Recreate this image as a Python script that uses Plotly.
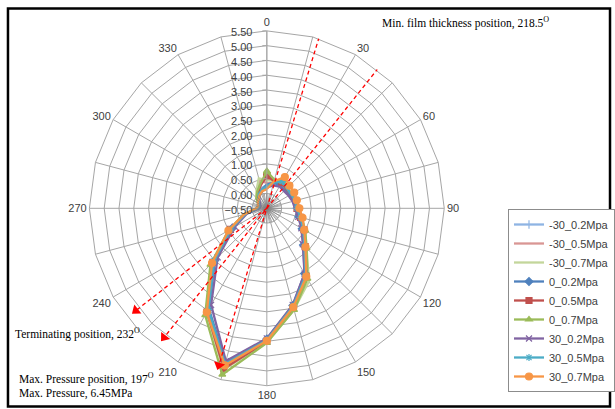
import plotly.graph_objects as go

# ---- data ----
ANGLES = list(range(0, 360, 15))
ANGLE_LABELS = [str(a) if a % 30 == 0 else "" for a in ANGLES]

SERIES_NAMES = ["-30_0.2Mpa", "-30_0.5Mpa", "-30_0.7Mpa",
                "0_0.2Mpa", "0_0.5Mpa", "0_0.7Mpa",
                "30_0.2Mpa", "30_0.5Mpa", "30_0.7Mpa"]

m30_02 = [0.30, 0.35, 0.45, 0.40, 0.42, 0.45, 0.50, 0.65, 0.90, 1.28, 2.10, 2.95, 3.95, 4.95, 3.45, 2.00, 0.85, 0.25, -0.20, -0.25, -0.20, -0.10, 0.05, 0.20]
m30_05 = [0.35, 0.40, 0.50, 0.42, 0.44, 0.48, 0.52, 0.68, 0.95, 1.32, 2.18, 3.00, 4.00, 5.05, 3.50, 2.05, 0.90, 0.28, -0.18, -0.22, -0.18, -0.05, 0.15, 0.50]
m30_07 = [0.45, 0.45, 0.55, 0.45, 0.47, 0.52, 0.56, 0.72, 1.00, 1.40, 2.35, 3.05, 4.02, 5.15, 3.58, 2.10, 0.95, 0.30, -0.15, -0.20, -0.15, 0.00, 0.20, 0.55]
z_02 = [0.30, 0.40, 0.40, 0.35, 0.38, 0.42, 0.48, 0.62, 0.88, 1.25, 2.05, 2.90, 3.92, 4.90, 3.42, 1.98, 0.85, 0.22, -0.22, -0.25, -0.22, -0.12, 0.05, 0.15]
z_05 = [0.60, 0.45, 0.50, 0.42, 0.45, 0.48, 0.52, 0.68, 0.95, 1.33, 2.15, 2.98, 4.00, 5.12, 3.55, 2.08, 0.92, 0.28, -0.18, -0.22, -0.18, -0.05, 0.10, 0.30]
z_07 = [0.75, 0.50, 0.55, 0.46, 0.48, 0.52, 0.56, 0.72, 1.00, 1.40, 2.25, 3.06, 4.05, 5.32, 3.67, 2.20, 1.00, 0.32, -0.15, -0.20, -0.15, 0.00, 0.15, 0.35]
p30_02 = [0.20, 0.30, 0.35, 0.32, 0.35, 0.40, 0.45, 0.60, 0.85, 1.22, 2.05, 2.88, 3.90, 4.85, 3.27, 1.85, 0.75, 0.20, -0.25, -0.28, -0.25, -0.15, 0.00, 0.10]
p30_05 = [0.25, 0.40, 0.55, 0.45, 0.45, 0.48, 0.52, 0.68, 0.92, 1.30, 2.12, 2.93, 3.95, 4.95, 3.45, 2.02, 0.90, 0.25, -0.20, -0.24, -0.20, -0.10, 0.05, 0.15]
p30_07 = [0.15, 0.45, 0.72, 0.58, 0.57, 0.55, 0.60, 0.75, 0.96, 1.35, 2.17, 2.96, 3.98, 5.00, 3.56, 2.12, 1.00, 0.30, -0.15, -0.20, -0.15, -0.10, 0.00, 0.10]
SERIES_VALUES = [m30_02, m30_05, m30_07, z_02, z_05, z_07, p30_02, p30_05, p30_07]

R_MIN, R_MAX, R_STEP = -0.5, 5.5, 0.5

# annotation lines (degrees) and their extents (in radial units)
MARK_ANGLES = [197, 218.5, 232]
MARK_TIP_R = [5.05, 5.08, 5.12]
MARK_BACK_R = [5.55, 5.55, None]
CENTER_SPOKES = list(range(0, 360, 10))

# ---- styles ----
COLORS = ["#8EB4E3", "#D99694", "#C3D69B", "#4F81BD", "#C0504D",
          "#9BBB59", "#8064A2", "#4BACC6", "#F79646"]
SYMBOLS = ["cross-thin-open", None, None, "diamond", "square",
           "triangle-up", "x-thin-open", "asterisk-open", "circle"]
SIZES = [6, 0, 0, 6, 6, 6, 6, 6, 7]

fig = go.Figure()
cats = [str(a) for a in ANGLES]
for name, vals, col, sym, sz in zip(SERIES_NAMES, SERIES_VALUES, COLORS, SYMBOLS, SIZES):
    kw = dict(r=vals + vals[:1], theta=cats + cats[:1], name=name,
              line=dict(color=col, width=2.3), subplot="polar")
    if sym:
        kw["mode"] = "lines+markers"
        kw["marker"] = dict(symbol=sym, size=sz, color=col,
                            line=dict(color=col, width=1.2))
    else:
        kw["mode"] = "lines"
    fig.add_trace(go.Scatterpolar(**kw))

# fine spokes near centre
sp_r, sp_t = [], []
for a in CENTER_SPOKES:
    sp_r += [R_MIN, 0.0, None]
    sp_t += [a, a, None]
fig.add_trace(go.Scatterpolar(r=sp_r, theta=sp_t, mode="lines", subplot="polar2",
                              line=dict(color="#7f7f7f", width=0.7),
                              showlegend=False, hoverinfo="skip"))

# red dashed marker lines
for ang, tip, back in zip(MARK_ANGLES, MARK_TIP_R, MARK_BACK_R):
    rr = [R_MIN, tip]
    tt = [ang, ang]
    if back is not None:
        rr = [back, R_MIN, tip]
        tt = [ang - 180, ang - 180, ang]
    fig.add_trace(go.Scatterpolar(r=rr, theta=tt, mode="lines", subplot="polar2",
                                  line=dict(color="#FF0000", width=1.3, dash="4px,3px"),
                                  showlegend=False, hoverinfo="skip"))
fig.add_trace(go.Scatterpolar(r=MARK_TIP_R, theta=MARK_ANGLES, mode="markers",
                              subplot="polar2",
                              marker=dict(symbol="triangle-up", size=10, color="#FF0000",
                                          angle=MARK_ANGLES),
                              showlegend=False, hoverinfo="skip"))

W, H = 615, 409
cx, cy, rad = 267.7, 208.3, 178
dom_x = [(cx - rad) / W, (cx + rad) / W]
dom_y = [1 - (cy + rad) / H, 1 - (cy - rad) / H]

tickv = [R_MIN + i * R_STEP for i in range(int(round((R_MAX - R_MIN) / R_STEP)) + 1)]
fig.update_layout(
    width=W, height=H, margin=dict(l=0, r=0, t=0, b=0),
    paper_bgcolor="white", plot_bgcolor="white",
    font=dict(family="Liberation Sans, Arial", size=11, color="#404040"),
    polar=dict(
        domain=dict(x=dom_x, y=dom_y), bgcolor="white", gridshape="linear",
        angularaxis=dict(type="category", categoryarray=cats, rotation=90,
                         direction="clockwise", tickmode="array", tickvals=cats,
                         ticktext=ANGLE_LABELS, showline=True, linecolor="#A6A6A6",
                         linewidth=1, gridcolor="#A6A6A6", gridwidth=1, ticks="",
                         tickfont=dict(size=11, color="#404040")),
        radialaxis=dict(range=[R_MIN, R_MAX], tickvals=tickv, tickformat=".2f",
                        angle=90, side="counterclockwise", showline=True,
                        linecolor="#A6A6A6", gridcolor="#A6A6A6", gridwidth=1,
                        ticks="outside", ticklen=4, tickcolor="#A6A6A6",
                        tickfont=dict(size=11, color="#404040")),
    ),
    polar2=dict(
        domain=dict(x=dom_x, y=dom_y), bgcolor="rgba(0,0,0,0)",
        angularaxis=dict(rotation=90, direction="clockwise", visible=False,
                         showgrid=False, showline=False, showticklabels=False, ticks=""),
        radialaxis=dict(range=[R_MIN, R_MAX], visible=False, showgrid=False,
                        showline=False, showticklabels=False, ticks=""),
    ),
    legend=dict(x=510 / W, y=1 - 209 / H, xanchor="left", yanchor="top",
                bordercolor="#8C8C8C", borderwidth=1, bgcolor="white",
                font=dict(size=11, color="#404040"), itemwidth=30,
                tracegroupgap=0),
    shapes=[dict(type="rect", xref="paper", yref="paper",
                 x0=8 / W, x1=612 / W, y0=1 - 406.5 / H, y1=1 - 8.5 / H,
                 line=dict(color="black", width=2.5))],
)

serif = dict(family="Liberation Serif, Times New Roman", size=11.5, color="black")
ann = [
    ("Min. film thickness position, 218.5<sup>O</sup>", 381.7, 23),
    ("Terminating position, 232<sup>O</sup>", 12.7, 333),
    ("Max. Pressure position, 197<sup>O</sup>", 16.7, 378),
    ("Max. Pressure, 6.45MPa", 16.7, 393.5),
]
for txt, x, y in ann:
    fig.add_annotation(text=txt, x=x / W, y=1 - y / H, xref="paper", yref="paper",
                       xanchor="left", yanchor="middle", showarrow=False, font=serif)

fig.write_html("out.html")
